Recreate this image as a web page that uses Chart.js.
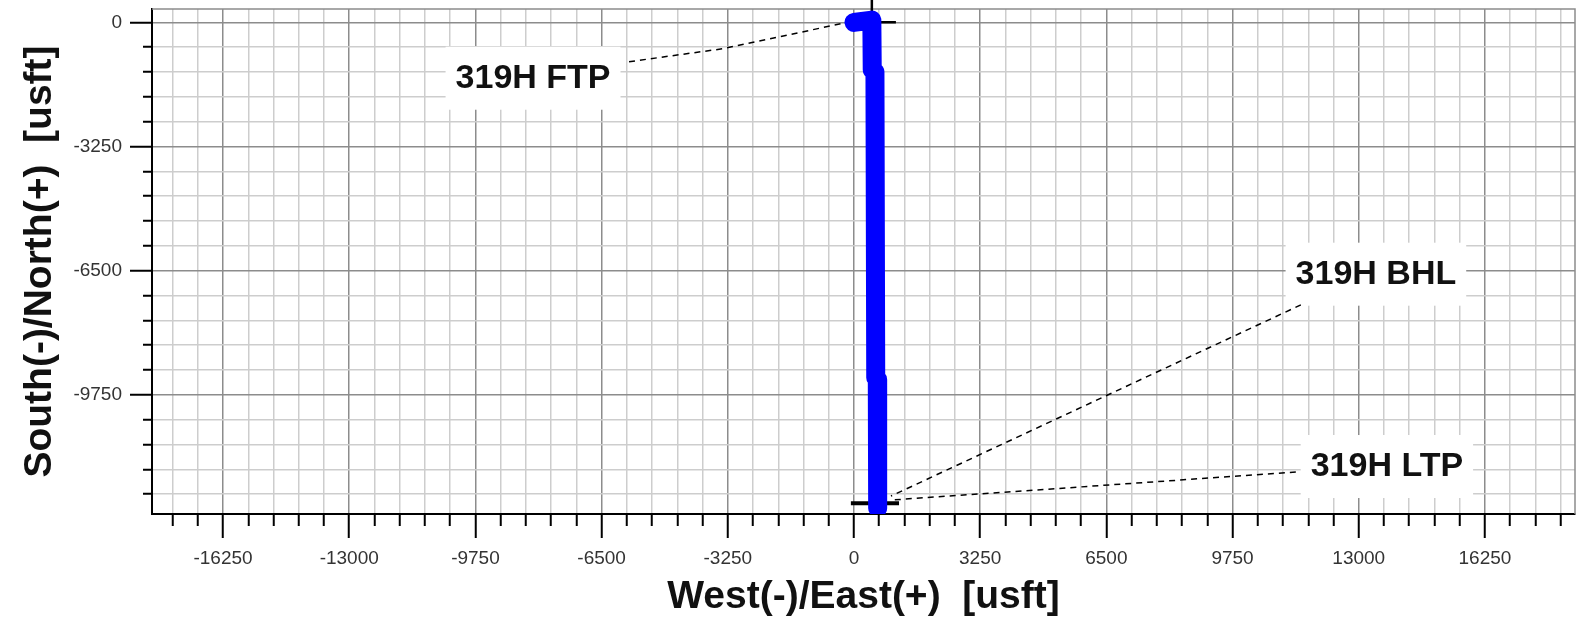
<!DOCTYPE html>
<html>
<head>
<meta charset="utf-8">
<script src="https://cdn.jsdelivr.net/npm/chart.js@4.4.0/dist/chart.umd.min.js"></script>
<style>
  html, body { margin: 0; padding: 0; background: #fff; overflow: hidden; }
  #wrap { width: 1587px; height: 634px; }
  canvas { display: block; }
</style>
</head>
<body>
<div id="wrap"><canvas id="plan" width="1587" height="634"></canvas></div>
<script>
// axis ranges (usft)
const xMin = -18080, xMax = 18570;
const yMin = -12870, yMax = 350;
const minorStep = 650, majorStep = 3250;

// well path, East / North
const wellEW = [0, 460, 470, 540, 560, 600, 610];
const wellNS = [0, 60, -1240, -1300, -9300, -9350, -12720];

// surface cross and bottom marker
const crossHEW = [-160, 1080], crossHNS = [0, 0];
const crossVEW = [460, 460], crossVNS = [600, -600];
const bottomEW = [-80, 1160], bottomNS = [-12590, -12590];

// callouts
const labelText = ['319H FTP', '319H BHL', '319H LTP'];
const labelEW = [-8266, 13442, 13725];
const labelNS = [-1449, -6579, -11614];
const ftpLeadEW = [-5794, -3373, -206], ftpLeadNS = [-1030, -689, -8];
const bhlLeadEW = [11510, 953], bhlLeadNS = [-7396, -12400];
const ltpLeadEW = [11380, 953], ltpLeadNS = [-11771, -12505];

const pts = (xs, ys) => xs.map((x, i) => ({ x, y: ys[i] }));
const isMajor = v => v % majorStep === 0;

function stepTicks(scale) {
  const ticks = [];
  for (let v = Math.ceil(scale.min / minorStep) * minorStep; v <= scale.max; v += minorStep) {
    ticks.push({ value: v });
  }
  scale.ticks = ticks;
}

const tickFont = { family: '"Liberation Sans", Arial, sans-serif', size: 19 };
const titleFont = { family: '"Liberation Sans", Arial, sans-serif', size: 39, weight: 'bold' };

const frameAndLabels = {
  id: 'frameAndLabels',
  beforeDatasetsDraw(chart) {
    const { ctx, chartArea: a, scales: { x, y } } = chart;
    ctx.save();
    ctx.strokeStyle = '#8c8c8c';
    ctx.lineWidth = 1.5;
    ctx.beginPath();
    ctx.moveTo(a.left, a.top);
    ctx.lineTo(a.right, a.top);
    ctx.lineTo(a.right, a.bottom);
    ctx.stroke();

    ctx.font = 'bold 34px "Liberation Sans", Arial, sans-serif';
    ctx.textAlign = 'center';
    ctx.textBaseline = 'middle';
    labelText.forEach((t, i) => {
      const px = x.getPixelForValue(labelEW[i]);
      const py = y.getPixelForValue(labelNS[i]);
      const w = ctx.measureText(t).width + 20;
      ctx.fillStyle = '#fff';
      ctx.fillRect(px - w / 2, py - 31, w, 63);
      ctx.fillStyle = '#111';
      ctx.fillText(t, px, py + 1);
    });
    ctx.restore();
  }
};

const lead = (xs, ys) => ({
  data: pts(xs, ys), showLine: true, pointRadius: 0,
  borderColor: '#000', borderWidth: 1.5, borderDash: [6, 5]
});

new Chart(document.getElementById('plan'), {
  type: 'scatter',
  data: {
    datasets: [
      {
        data: pts(wellEW, wellNS), showLine: true, pointRadius: 0,
        borderColor: '#0000ff', borderWidth: 19,
        borderCapStyle: 'round', borderJoinStyle: 'round'
      },
      { data: pts(crossHEW, crossHNS), showLine: true, pointRadius: 0, borderColor: '#000', borderWidth: 2.5, clip: false },
      { data: pts(crossVEW, crossVNS), showLine: true, pointRadius: 0, borderColor: '#000', borderWidth: 2.5, clip: false },
      { data: pts(bottomEW, bottomNS), showLine: true, pointRadius: 0, borderColor: '#000', borderWidth: 4 },
      lead(ftpLeadEW, ftpLeadNS),
      lead(bhlLeadEW, bhlLeadNS),
      lead(ltpLeadEW, ltpLeadNS)
    ]
  },
  options: {
    responsive: false,
    animation: false,
    events: [],
    devicePixelRatio: 1,
    layout: { padding: { top: 9, right: 12, bottom: 0, left: 0 } },
    plugins: { legend: { display: false }, tooltip: { enabled: false } },
    scales: {
      x: {
        type: 'linear', position: 'bottom', min: xMin, max: xMax,
        afterBuildTicks: stepTicks,
        afterFit: s => { s.height = 120; s.paddingLeft = 0; s.paddingRight = 0; },
        grid: {
          color: c => (c.tick && isMajor(c.tick.value)) ? '#8c8c8c' : '#cdcdcd',
          lineWidth: 1.5,
          tickLength: 24,
          tickColor: '#000',
          tickWidth: 2,
          tickBorderDash: c => (c.tick && isMajor(c.tick.value)) ? [] : [11, 100]
        },
        border: { color: '#000', width: 2 },
        ticks: {
          autoSkip: false, maxRotation: 0, padding: 9, color: '#333', font: tickFont,
          callback: v => isMajor(v) ? String(v) : ''
        },
        title: {
          display: true, text: 'West(-)/East(+)  [usft]', color: '#111',
          font: titleFont, padding: { top: 0, bottom: 13 }
        }
      },
      y: {
        type: 'linear', min: yMin, max: yMax,
        afterBuildTicks: stepTicks,
        afterFit: s => { s.width = 152; s.paddingTop = 0; s.paddingBottom = 0; },
        grid: {
          color: c => (c.tick && isMajor(c.tick.value)) ? '#8c8c8c' : '#cdcdcd',
          lineWidth: 1.5,
          tickLength: 22,
          tickColor: '#000',
          tickWidth: 2,
          tickBorderDash: c => (c.tick && isMajor(c.tick.value)) ? [] : [0, 13, 9, 100]
        },
        border: { color: '#000', width: 2 },
        ticks: {
          autoSkip: false, padding: 8, color: '#333', font: tickFont,
          callback: v => isMajor(v) ? String(v) : ''
        },
        title: {
          display: true, text: 'South(-)/North(+)  [usft]', color: '#111',
          font: titleFont, padding: { top: 17, bottom: 0 }
        }
      }
    }
  },
  plugins: [frameAndLabels]
});
</script>
</body>
</html>
